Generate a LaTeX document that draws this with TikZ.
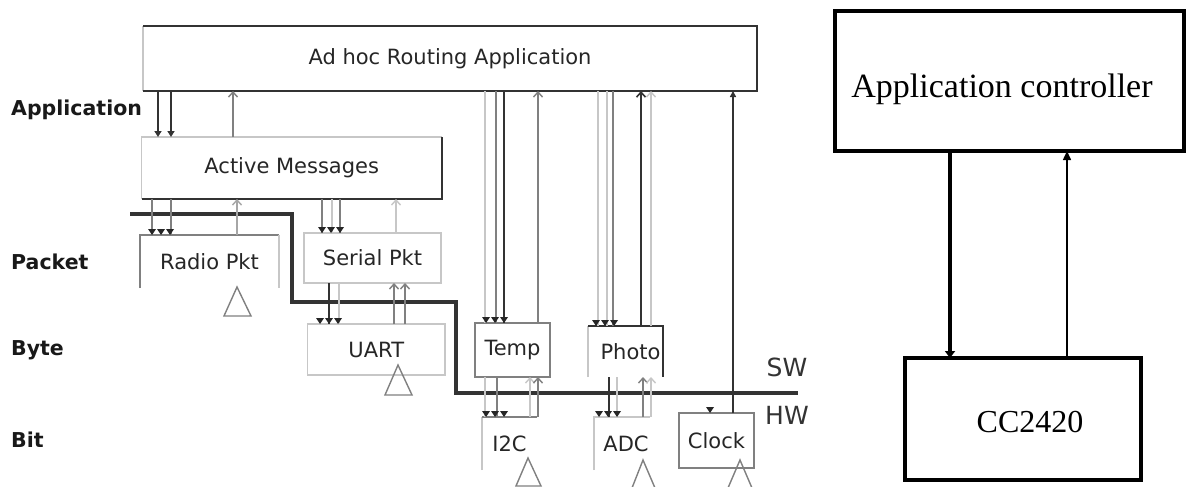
\documentclass[tikz,border=0pt]{standalone}
\usepackage{fontspec}
\setmainfont{DejaVu Sans}
\newfontfamily\serifface{Liberation Serif}
\usetikzlibrary{arrows.meta}
\begin{document}
\begin{tikzpicture}[x=1pt,y=-1pt,
  box/.style={inner sep=0pt, outer sep=0pt, font=\fontsize{21}{24}\selectfont, text=black!85},
  dk/.style={draw=black!80, line width=1.6pt},
  md/.style={draw=black!50, line width=1.4pt},
  lt/.style={draw=black!22, line width=1.4pt},
  lbl/.style={font=\bfseries\fontsize{20.5}{24}\selectfont, anchor=west, inner sep=0pt, text=black!90},
  dn/.style={-{Triangle[length=6pt,width=7pt]}},
  upb/.style={-{Straight Barb[length=5pt,width=9pt]}},
  heads/.pic={\foreach \d in {-9,0,9}{\fill[black!85] (\d-4,-6) -- (\d+4,-6) -- (\d,0) -- cycle;}},
  bigbox/.style={draw=black, line width=4.5pt, inner sep=0pt, outer sep=0pt}
]
\fill[white] (0,0) rectangle (1189,487);
\useasboundingbox (0,0) rectangle (1189,487);

% ---------- boxes ----------
\node[box, minimum width=614pt, minimum height=65pt] (adhoc) at (450,58.5) {Ad hoc Routing Application};
\node[box, minimum width=300.5pt, minimum height=62pt] (am) at (291.75,168) {Active Messages};
\node[box, minimum width=139pt, minimum height=53pt] (radio) at (209.5,261.5) {Radio Pkt};
\node[box, minimum width=137pt, minimum height=50pt] (serial) at (372.5,258) {Serial Pkt};
\node[box, minimum width=137.5pt, minimum height=51pt] (uart) at (376.25,349.5) {UART};
\node[box, minimum width=75pt, minimum height=54pt] (temp) at (512.5,350) {Temp};
\node[box, minimum width=75pt, minimum height=51pt] (photo) at (625.5,351.5) {\hspace*{10pt}Photo};
\node[box, minimum width=55pt, minimum height=53pt] (i2c) at (509.5,443.5) {I2C};
\node[box, minimum width=56pt, minimum height=53pt] (adc) at (622,443.5) {\hspace*{8pt}ADC};
\node[box, minimum width=75pt, minimum height=55pt] (clock) at (716.5,440.5) {Clock};

% box edges
\draw[lt] (adhoc.south west) -- (adhoc.north west);
\draw[dk] (adhoc.north west) -- (adhoc.north east) -- (adhoc.south east) -- (adhoc.south west);
\draw[lt] (am.south west) -- (am.north west) -- (am.north east);
\draw[dk] (am.north east) -- (am.south east) -- (am.south west);
\draw[md] (radio.south west) -- (radio.north west) -- (radio.north east);
\draw[lt] (radio.north east) -- (radio.south east);
\draw[lt] (serial.north west) rectangle (serial.south east);
\draw[lt] (uart.north west) rectangle (uart.south east);
\draw[md] (temp.north west) rectangle (temp.south east);
\draw[lt] (photo.south west) -- (photo.north west);
\draw[dk] (photo.north west) -- (photo.north east) -- (photo.south east);
\draw[lt] (i2c.south west) -- (i2c.north west);
\draw[md] (i2c.north west) -- (i2c.north east);
\draw[lt] (adc.south west) -- (adc.north west) -- (adc.north east);
\draw[md] (clock.north west) rectangle (clock.south east);

% triangles
\draw[md] (237,287) -- (251,316) -- (224,316) -- cycle;
\draw[md] (398,365) -- (412,395) -- (385,395) -- cycle;
\draw[md] (528,458) -- (541,486) -- (516,486) -- cycle;
\draw[md] (632,488) -- (643,460) -- (655,488);
\draw[md] (728,488) -- (740,460) -- (752,488);

% SW / HW boundary
\draw[line width=4pt, black!80] (130,214) -- (292,214) -- (292,302) -- (456,302) -- (456,393) -- (798,393);

% layer labels
\node[lbl] (lapp) at (11,110) {Application};
\node[lbl] (lpkt) at (11,262) {Packet};
\node[lbl] (lbyte) at (11,350) {Byte};
\node[lbl] (lbit) at (11,440) {Bit};
\node[font=\fontsize{25}{28}\selectfont, text=black!80, inner sep=0pt] (sw) at (787,367) {SW};
\node[font=\fontsize{25}{28}\selectfont, text=black!80, inner sep=0pt] (hw) at (787,415) {HW};

% ---------- connectors ----------
% adhoc <-> am
\draw[dk,dn] (158,0 |- adhoc.south) -- (158,0 |- am.north);
\draw[dk,dn] (171,0 |- adhoc.south) -- (171,0 |- am.north);
\draw[md,upb] (233,0 |- am.north) -- (233,0 |- adhoc.south);
% am <-> radio
\draw[md] (152,0 |- am.south) -- (152,0 |- radio.north);
\draw[md] (171,0 |- am.south) -- (171,0 |- radio.north);
\pic at (161,0 |- radio.north) {heads};
\draw[md,upb,draw=black!35] (237,0 |- radio.north) -- (237,0 |- am.south);
% am <-> serial
\draw[md] (322,0 |- am.south) -- (322,0 |- serial.north);
\draw[lt] (332,0 |- am.south) -- (332,0 |- serial.north);
\draw[md] (340,0 |- am.south) -- (340,0 |- serial.north);
\pic at (331,0 |- serial.north) {heads};
\draw[lt,upb] (396,0 |- serial.north) -- (396,0 |- am.south);
% serial <-> uart
\draw[dk] (329,0 |- serial.south) -- (329,0 |- uart.north);
\draw[lt] (339,0 |- serial.south) -- (339,0 |- uart.north);
\pic at (329,0 |- uart.north) {heads};
\draw[md,upb] (394,0 |- uart.north) -- (394,0 |- serial.south);
\draw[md,upb] (405,0 |- uart.north) -- (405,0 |- serial.south);
% adhoc <-> temp
\draw[lt] (485,0 |- adhoc.south) -- (485,0 |- temp.north);
\draw[md] (496,0 |- adhoc.south) -- (496,0 |- temp.north);
\draw[dk] (504,0 |- adhoc.south) -- (504,0 |- temp.north);
\pic at (495,0 |- temp.north) {heads};
\draw[md,upb] (538,0 |- temp.north) -- (538,0 |- adhoc.south);
% adhoc <-> photo
\draw[lt] (598,0 |- adhoc.south) -- (598,0 |- photo.north);
\draw[lt] (607,0 |- adhoc.south) -- (607,0 |- photo.north);
\draw[md] (613,0 |- adhoc.south) -- (613,0 |- photo.north);
\pic at (605,0 |- photo.north) {heads};
\draw[dk,upb] (641,0 |- photo.north) -- (641,0 |- adhoc.south);
\draw[lt,upb] (651,0 |- photo.north) -- (651,0 |- adhoc.south);
% clock -> adhoc
\draw[dk,-{Triangle[length=6pt,width=6pt]}] (733,0 |- clock.north) -- (733,0 |- adhoc.south);
\fill[black!85] (706,407) -- (714,407) -- (710,413) -- cycle;
% temp <-> i2c
\draw[lt] (485,0 |- temp.south) -- (485,0 |- i2c.north);
\draw[md] (497,0 |- temp.south) -- (497,0 |- i2c.north);
\pic at (495,0 |- i2c.north) {heads};
\draw[lt,upb] (530,0 |- i2c.north) -- (530,0 |- temp.south);
\draw[md,upb] (538,0 |- i2c.north) -- (538,0 |- temp.south);
% photo <-> adc
\draw[dk] (609,0 |- photo.south) -- (609,0 |- adc.north);
\draw[lt] (617,0 |- photo.south) -- (617,0 |- adc.north);
\pic at (608,0 |- adc.north) {heads};
\draw[md,upb] (643,0 |- adc.north) -- (643,0 |- photo.south);
\draw[lt,upb] (651,0 |- adc.north) -- (651,0 |- photo.south);

% ---------- right part ----------
\node[bigbox, minimum width=349pt, minimum height=140pt] (ctrl) at (1009.5,81) {};
\node[font=\serifface\fontsize{34}{38}\selectfont, anchor=base, inner sep=0pt] (ctrltext) at (1002,97) {Application controller};
\node[bigbox, minimum width=236pt, minimum height=122pt] (cc) at (1023,419) {};
\node[font=\serifface\fontsize{32}{36}\selectfont, anchor=base, inner sep=0pt] (cctext) at (1030,432) {CC2420};
\draw[line width=4.5pt, -{Triangle[length=7pt,width=10pt]}] (950,0 |- ctrl.south) -- (950,0 |- cc.north);
\draw[line width=1.5pt, -{Triangle[length=9pt,width=8pt]}] (1067,0 |- cc.north) -- (1067,0 |- ctrl.south);
\end{tikzpicture}
\end{document}
